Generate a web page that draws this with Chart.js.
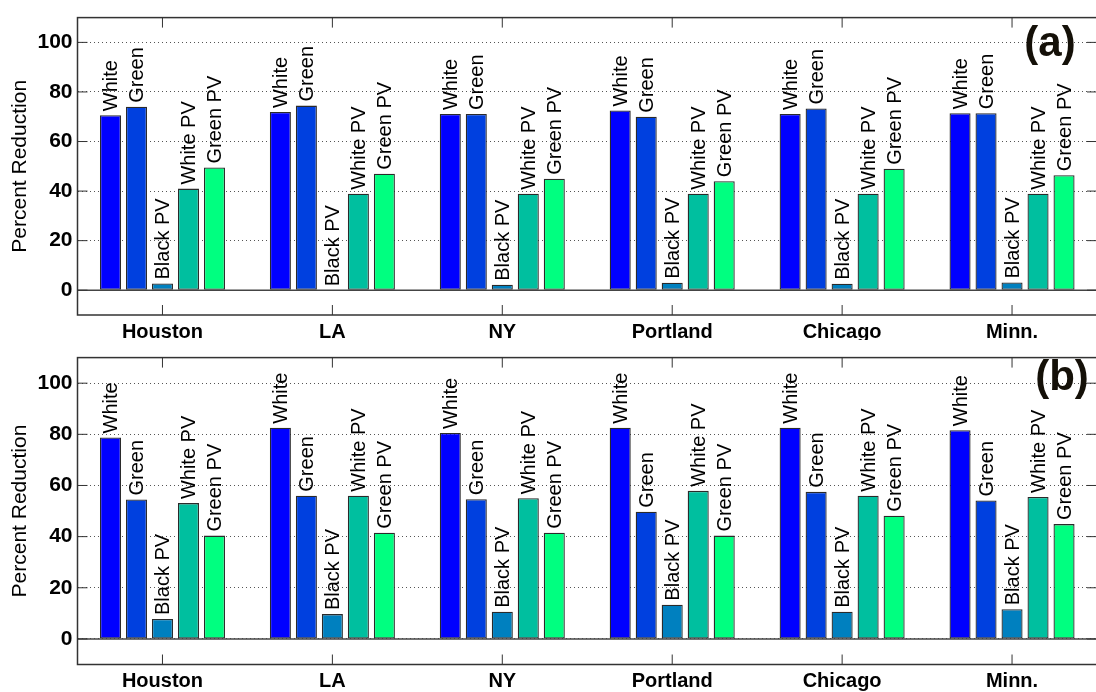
<!DOCTYPE html>
<html>
<head>
<meta charset="utf-8">
<script src="https://cdn.jsdelivr.net/npm/chart.js@4.4.0/dist/chart.umd.min.js"></script>
<style>
  body { margin: 0; background: #fff; }
  .panel { position: absolute; left: 0; width: 1096px; overflow: hidden; }
  #wrapA { top: 0; height: 340px; }
  #wrapB { top: 340px; height: 352px; }
</style>
</head>
<body>
<div class="panel" id="wrapA"><canvas id="chartA" width="1100" height="340"></canvas></div>
<div class="panel" id="wrapB"><canvas id="chartB" width="1100" height="352"></canvas></div>
<script>
// ciudades y tipos de techo
const cities = ["Houston", "LA", "NY", "Portland", "Chicago", "Minn."];
const roofTypes = ["White", "Green", "Black PV", "White PV", "Green PV"];
const roofColors = ["rgb(0,0,255)", "rgb(0,64,223)", "rgb(0,128,191)", "rgb(0,191,159)", "rgb(0,255,128)"];
const yTicks = [0, 20, 40, 60, 80, 100];

// panel (a)
const whiteA   = [70.6, 71.9, 71.1, 72.5, 71.1, 71.4];
const greenA   = [74.0, 74.5, 71.1, 70.0, 73.3, 71.4];
const blackPvA = [2.7, 0, 2.2, 3.0, 2.6, 3.1];
const whitePvA = [41.0, 38.9, 38.9, 38.9, 38.9, 38.9];
const greenPvA = [49.5, 47.0, 45.0, 44.0, 49.0, 46.4];

// panel (b)
const whiteB   = [78.8, 82.6, 80.5, 82.6, 82.6, 81.6];
const greenB   = [54.5, 56.0, 54.6, 49.7, 57.5, 54.1];
const blackPvB = [7.8, 9.7, 10.6, 13.4, 10.6, 11.6];
const whitePvB = [53.1, 56.0, 55.0, 57.9, 56.0, 55.5];
const greenPvB = [40.4, 41.5, 41.5, 40.4, 48.2, 44.9];

const extras = {
    id: "extras",
    afterDatasetsDraw(chart, args, opts) {
        let ctx = chart.ctx;
        let area = chart.chartArea;
        let y = chart.scales.y;
        let x = chart.scales.x;

        //linea base en cero
        let y0 = y.getPixelForValue(0);
        ctx.save();
        ctx.strokeStyle = "#444";
        ctx.lineWidth = 1.5;
        ctx.beginPath();
        ctx.moveTo(area.left, y0);
        ctx.lineTo(area.right, y0);
        ctx.stroke();

        //etiquetas verticales sobre cada barra
        ctx.fillStyle = "#000";
        ctx.font = "20px 'Liberation Sans', Arial, sans-serif";
        ctx.textAlign = "left";
        ctx.textBaseline = "middle";
        chart.data.datasets.forEach((ds, i) => {
            chart.getDatasetMeta(i).data.forEach(bar => {
                ctx.save();
                ctx.translate(bar.x, Math.min(bar.y, y0) - 4);
                ctx.rotate(-Math.PI / 2);
                ctx.fillText(ds.label, 0, 1);
                ctx.restore();
            });
        });

        //marco y marcas hacia adentro
        ctx.strokeStyle = "#333";
        ctx.lineWidth = 1.5;
        ctx.strokeRect(area.left, area.top, area.right - area.left, area.bottom - area.top);
        ctx.lineWidth = 1;
        ctx.beginPath();
        cities.forEach((c, i) => {
            let px = x.getPixelForValue(i);
            ctx.moveTo(px, area.top);
            ctx.lineTo(px, area.top + 10);
            ctx.moveTo(px, area.bottom);
            ctx.lineTo(px, area.bottom - 10);
        });
        yTicks.forEach(v => {
            let py = y.getPixelForValue(v);
            ctx.moveTo(area.left, py);
            ctx.lineTo(area.left + 10, py);
            ctx.moveTo(area.right, py);
            ctx.lineTo(area.right - 10, py);
        });
        ctx.stroke();

        //letra del panel
        ctx.fillStyle = "#141008";
        ctx.font = "bold 42px 'Liberation Sans', Arial, sans-serif";
        ctx.textAlign = "center";
        ctx.textBaseline = "middle";
        ctx.fillText(opts.letter, opts.lx, opts.ly);
        ctx.restore();
    }
};

function makePanel(canvasId, series, letter, lx, ly, xHeight){
    let datasets = roofTypes.map((name, i) => ({
        label: name,
        data: series[i],
        backgroundColor: roofColors[i],
        borderColor: "#2a2a2a",
        borderWidth: 1.3,
        borderSkipped: false,
        categoryPercentage: 0.765,
        barPercentage: 0.81
    }));

    return new Chart(document.getElementById(canvasId), {
        type: "bar",
        data: { labels: cities, datasets: datasets },
        plugins: [extras],
        options: {
            responsive: false,
            animation: false,
            devicePixelRatio: 1,
            layout: { padding: { top: 9, right: 3, left: 0, bottom: 0 } },
            plugins: {
                legend: { display: false },
                tooltip: { enabled: false },
                extras: { letter: letter, lx: lx, ly: ly }
            },
            scales: {
                x: {
                    grid: { display: false, drawTicks: false },
                    border: { display: false },
                    ticks: {
                        color: "#000",
                        padding: 5,
                        font: { family: "'Liberation Sans', Arial, sans-serif", size: 20, weight: "bold" }
                    },
                    afterFit: s => { s.height = xHeight; }
                },
                y: {
                    min: -10,
                    max: 110,
                    afterBuildTicks: s => { s.ticks = yTicks.map(v => ({ value: v })); },
                    grid: { color: "#555", lineWidth: 1, drawTicks: false },
                    border: { display: false, dash: [1, 3] },
                    ticks: {
                        color: "#000",
                        padding: 5,
                        font: { family: "'Liberation Sans', Arial, sans-serif", size: 21, weight: "bold" }
                    },
                    title: {
                        display: true,
                        text: "Percent Reduction",
                        color: "#000",
                        padding: { top: 8, bottom: 0 },
                        font: { family: "'Liberation Sans', Arial, sans-serif", size: 21 }
                    },
                    afterFit: s => { s.width = 77.5; }
                }
            }
        }
    });
}

makePanel("chartA", [whiteA, greenA, blackPvA, whitePvA, greenPvA], "(a)", 1050, 44, 25);
makePanel("chartB", [whiteB, greenB, blackPvB, whitePvB, greenPvB], "(b)", 1062, 38, 27.5);
</script>
</body>
</html>
